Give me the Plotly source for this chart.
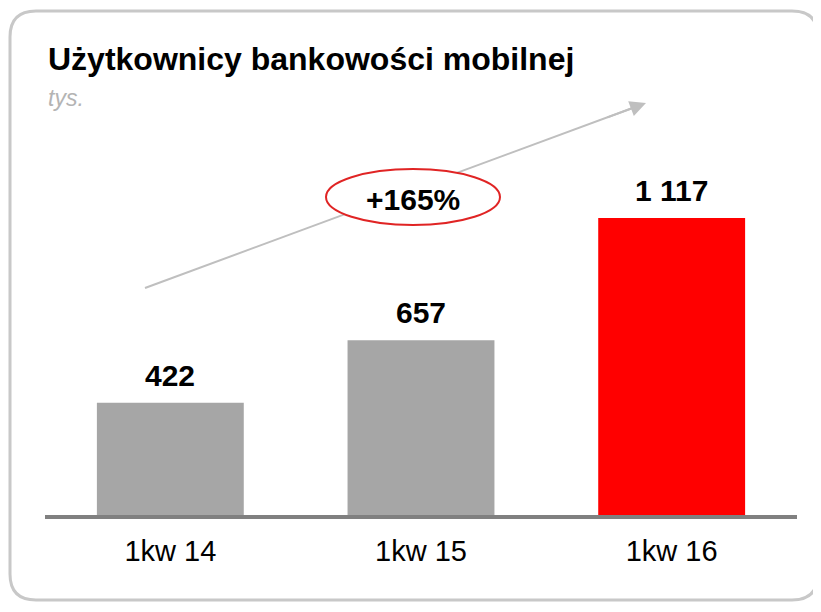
import plotly.graph_objects as go

categories = ["1kw 14", "1kw 15", "1kw 16"]
values = [422, 657, 1117]
bar_colors = ["#a6a6a6", "#a6a6a6", "#ff0000"]
growth_label = "+165%"
title_text = "Użytkownicy bankowości mobilnej"
unit_text = "tys."

W, H = 821, 612
OFF = 8  # page body margin
def px(x):
    return (x - OFF) / W
def py(y):
    return 1 - (y - OFF) / H

labels = [f"{v:,}".replace(",", " ") for v in values]
FONT = "Liberation Sans, Arial"

fig = go.Figure()
fig.add_trace(go.Bar(
    x=categories, y=values, marker=dict(color=bar_colors, line=dict(width=0)),
    hoverinfo="skip",
))

# rounded border path (pixels -> paper)
x0, y0, x1, y1, r = 10, 11, 818, 600, 26
def P(x, y):
    return f"{px(x):.5f},{py(y):.5f}"
path = (f"M {P(x0+r,y0)} L {P(x1-r,y0)} Q {P(x1,y0)} {P(x1,y0+r)} "
        f"L {P(x1,y1-r)} Q {P(x1,y1)} {P(x1-r,y1)} L {P(x0+r,y1)} "
        f"Q {P(x0,y1)} {P(x0,y1-r)} L {P(x0,y0+r)} Q {P(x0,y0)} {P(x0+r,y0)} Z")

shapes = [
    dict(type="path", xref="paper", yref="paper", path=path,
         line=dict(color="#c8c8c8", width=3), fillcolor="rgba(0,0,0,0)", layer="below"),
    dict(type="line", xref="paper", yref="paper",
         x0=px(145), y0=py(288), x1=px(638), y1=py(106),
         line=dict(color="#bfbfbf", width=2)),
    dict(type="circle", xref="paper", yref="paper",
         x0=px(326), y0=py(225), x1=px(500), y1=py(169),
         line=dict(color="#e02424", width=2), fillcolor="#ffffff"),
]

annotations = [
    dict(xref="paper", yref="paper", x=px(46), y=py(59), xanchor="left", yanchor="middle",
         text=f"<b>{title_text}</b>", showarrow=False,
         font=dict(family=FONT, size=32, color="#000000")),
    dict(xref="paper", yref="paper", x=px(46), y=py(98), xanchor="left", yanchor="middle",
         text=f"<i>{unit_text}</i>", showarrow=False,
         font=dict(family=FONT, size=23, color="#b4b4b4")),
    dict(xref="paper", yref="paper", x=px(413), y=py(199), xanchor="center", yanchor="middle",
         text=f"<b>{growth_label}</b>", showarrow=False,
         font=dict(family=FONT, size=30, color="#000000")),
    dict(xref="paper", yref="paper", x=px(646), y=py(103), text="", showarrow=True,
         ax=-40, ay=15, arrowhead=2, arrowsize=1.6, arrowwidth=2, arrowcolor="#bfbfbf"),
]
for c, v, t in zip(categories, values, labels):
    annotations.append(dict(x=c, y=v, xref="x", yref="y", text=f"<b>{t}</b>",
                            showarrow=False, xanchor="center", yanchor="bottom", yshift=9,
                            font=dict(family=FONT, size=30, color="#000000")))

fig.update_layout(
    width=W, height=H, margin=dict(l=0, r=0, t=0, b=0),
    paper_bgcolor="#ffffff", plot_bgcolor="#ffffff",
    showlegend=False, bargap=0.414,
    shapes=shapes, annotations=annotations,
    font=dict(family=FONT, color="#000000"),
    xaxis=dict(domain=[px(45), px(797)], showline=True, linecolor="#808080", linewidth=4,
               showgrid=False, zeroline=False, ticks="", ticklabelstandoff=7,
               tickfont=dict(family=FONT, size=29, color="#000000")),
    yaxis=dict(domain=[py(515), py(60)], range=[0, 1711], visible=False,
               showgrid=False, zeroline=False),
)

fig.write_html("out.html")
